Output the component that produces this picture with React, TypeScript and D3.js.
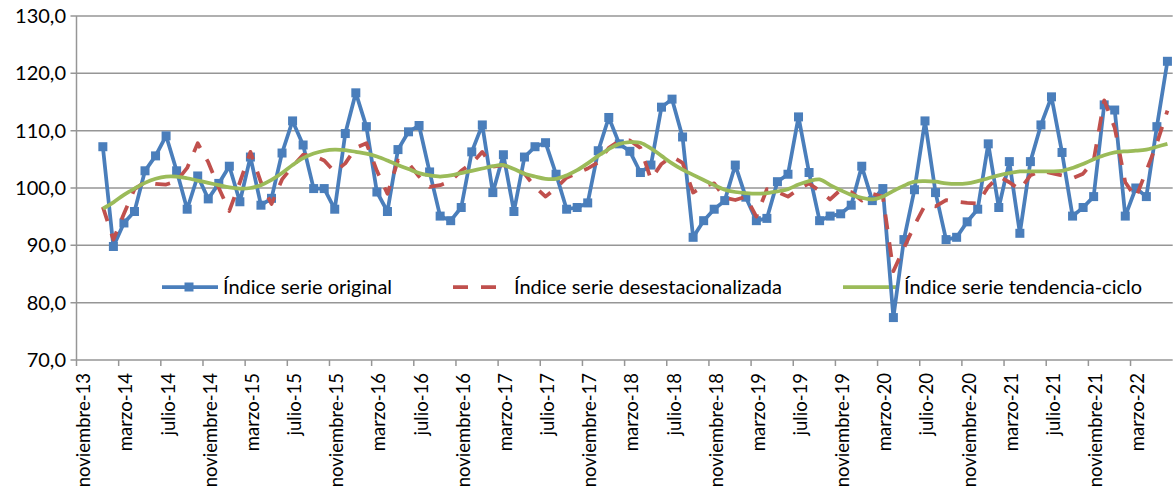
import React from 'react';
import * as d3 from 'd3';

const width = 1173;
const height = 498;
const plotLeft = 76.5;
const plotRight = 1172.7;
const plotTop = 16;
const plotBottom = 360;

const blue = '#4a7ebb';
const red = '#c0504d';
const green = '#9bbb59';
const grid = '#969696';
const font = 'Lato, "Open Sans", sans-serif';

const monthNames = ['enero', 'febrero', 'marzo', 'abril', 'mayo', 'junio', 'julio',
  'agosto', 'septiembre', 'octubre', 'noviembre', 'diciembre'];

// noviembre-13 .. junio-22
const categories: string[] = [];
for (let y = 2013; y <= 2022; y++) {
  for (let m = 0; m < 12; m++) {
    if (y === 2013 && m < 10) continue;
    if (y === 2022 && m > 5) continue;
    categories.push(`${monthNames[m]}-${String(y).slice(2)}`);
  }
}

const original = [null, null,
  107.2, 89.8, 93.9, 95.9, 103.0, 105.6, 109.1, 103.0, 96.3, 102.1,
  98.1, 100.8, 103.8, 97.6, 105.4, 97.0, 98.2, 106.1, 111.7, 107.5,
  99.9, 99.9, 96.3, 109.5, 116.6, 110.7, 99.3, 95.9, 106.7, 109.8,
  110.9, 102.8, 95.1, 94.3, 96.6, 106.3, 111.0, 99.2, 105.8, 95.9,
  105.4, 107.2, 107.9, 102.4, 96.3, 96.6, 97.4, 106.5, 112.3, 107.7,
  106.4, 102.7, 104.0, 114.1, 115.5, 108.9, 91.4, 94.3, 96.3, 97.8,
  104.0, 98.4, 94.3, 94.7, 101.1, 102.4, 112.4, 102.7, 94.3, 95.1,
  95.5, 97.0, 103.8, 97.8, 99.9, 77.4, 91.0, 99.7, 111.7, 99.2,
  91.0, 91.4, 94.1, 96.3, 107.7, 96.6, 104.6, 92.1, 104.6, 111.0,
  115.9, 106.2, 95.1, 96.6, 98.5, 114.5, 113.6, 95.1, 100.0, 98.5,
  110.7, 122.1];

const desestacionalizada = [null, null,
  96.7, 91.0, 95.5, 99.8, 101.0, 100.7, 100.6, 101.2, 103.5, 107.8,
  104.5, 100.0, 96.0, 101.0, 106.3, 101.0, 97.2, 101.5, 103.8, 105.8,
  105.6, 104.8, 102.8, 104.3, 107.0, 107.8, 103.0, 99.0, 104.8, 104.3,
  102.0, 100.2, 100.5, 101.2, 103.0, 104.3, 106.3, 103.7, 104.0, 103.3,
  102.5, 100.2, 98.5, 100.0, 101.8, 102.6, 103.4, 104.5, 107.0, 108.2,
  108.3, 107.0, 101.5, 104.2, 105.5, 104.4, 99.2, 100.3, 100.8, 98.3,
  97.9, 98.5, 95.0, 99.8, 99.3, 98.5, 99.8, 100.8, 99.5, 98.0,
  99.7, 99.3, 97.8, 99.0, 98.5, 85.5, 89.5, 93.5, 97.0, 96.8,
  97.9, 97.6, 97.4, 97.3, 100.2, 102.0, 101.0, 99.7, 102.2, 103.0,
  102.6, 102.2, 101.7, 102.5, 104.8, 115.3, 110.5, 101.0, 98.3, 103.0,
  107.8, 113.5];

const tendencia = [null, null,
  96.4, 97.5, 98.8, 99.9, 100.9, 101.6, 102.0, 102.0, 101.7, 101.3,
  100.9, 100.5, 100.1, 99.9, 100.0, 100.5, 101.4, 102.6, 104.0, 105.2,
  106.0, 106.5, 106.7, 106.6, 106.3, 106.0, 105.5, 104.8, 104.0, 103.3,
  102.6, 102.2, 102.0, 102.2, 102.6, 103.0, 103.4, 103.8, 104.0, 103.3,
  102.5, 102.0, 101.6, 101.6, 102.2, 103.1, 104.3, 105.6, 106.8, 107.7,
  108.0, 107.9, 106.9, 105.6, 104.3, 103.2, 102.3, 101.4, 100.5, 99.7,
  99.3, 99.1, 99.0, 99.1, 99.4, 99.8, 100.6, 101.2, 101.5, 100.5,
  99.6, 98.8, 98.3, 98.0, 98.5, 99.5, 100.4, 101.1, 101.2, 101.1,
  100.8, 100.7, 100.8, 101.2, 101.7, 102.2, 102.6, 102.9, 102.9, 102.9,
  102.9, 103.0, 103.5, 104.2, 105.0, 105.7, 106.2, 106.4, 106.5, 106.7,
  107.2, 107.7];

const yTicks = [70, 80, 90, 100, 110, 120, 130];

const legendItems = [
  { label: 'Índice serie original', color: blue, dash: null, marker: true, x: 162 },
  { label: 'Índice serie desestacionalizada', color: red, dash: '15 13', marker: false, x: 453 },
  { label: 'Índice serie tendencia-ciclo', color: green, dash: null, marker: false, x: 843 },
];

const x = d3.scaleBand<string>().domain(categories).range([plotLeft, plotRight]).padding(0);
const y = d3.scaleLinear().domain([70, 130]).range([plotBottom, plotTop]);
const cx = (c: string) => (x(c) as number) + x.bandwidth() / 2;

type Pt = [string, number | null];
const zip = (vals: (number | null)[]): Pt[] => categories.map((c, i) => [c, vals[i]]);

const straight = d3.line<Pt>()
  .defined(d => d[1] != null)
  .x(d => cx(d[0]))
  .y(d => y(d[1] as number));

const smooth = d3.line<Pt>()
  .defined(d => d[1] != null)
  .x(d => cx(d[0]))
  .y(d => y(d[1] as number))
  .curve(d3.curveCatmullRom.alpha(0.5));

export default function App() {
  const labelCats = categories.filter((_, i) => i % 4 === 0);
  const origPts = zip(original).filter(d => d[1] != null);
  return (
    <svg width={width} height={height} style={{ position: 'absolute', left: 0, top: 0, background: '#fff' }}>
      {/* gridlines + y axis */}
      {yTicks.map(t => (
        <line key={t} x1={plotLeft - 6} x2={plotRight} y1={y(t)} y2={y(t)} stroke={grid} strokeWidth={1.5} />
      ))}
      {yTicks.map(t => (
        <text key={'l' + t} x={66} y={y(t)} dy="0.35em" textAnchor="end" fontFamily={font} fontSize={20} fill="#000">
          {d3.format('.1f')(t).replace('.', ',')}
        </text>
      ))}
      <line x1={plotLeft} x2={plotLeft} y1={plotTop} y2={plotBottom} stroke={grid} strokeWidth={1.5} />

      {/* x axis ticks + labels, every 4 months */}
      {labelCats.map(c => (
        <line key={'t' + c} x1={x(c)} x2={x(c)} y1={plotBottom} y2={plotBottom + 6} stroke={grid} strokeWidth={1.5} />
      ))}
      {labelCats.map(c => (
        <text key={'x' + c} transform={`translate(${cx(c) + 2},${plotBottom + 13}) rotate(-90)`}
          dy="0.35em" textAnchor="end" fontFamily={font} fontSize={18.5} fill="#000">{c}</text>
      ))}

      {/* legend */}
      {legendItems.map(it => (
        <g key={it.label}>
          <line x1={it.x} x2={it.x + 56} y1={287} y2={287} stroke={it.color} strokeWidth={3.75}
            strokeDasharray={it.dash ?? undefined} />
          {it.marker && <rect x={it.x + 22.5} y={282.5} width={9} height={9} fill={it.color} />}
          <text x={it.x + 61} y={287} dy="0.35em" fontFamily={font} fontSize={20} fill="#000">{it.label}</text>
        </g>
      ))}

      {/* series */}
      <path d={straight(zip(original)) ?? ''} fill="none" stroke={blue} strokeWidth={3.75} strokeLinejoin="round" />
      {origPts.map(d => (
        <rect key={'m' + d[0]} x={cx(d[0]) - 4.5} y={y(d[1] as number) - 4.5} width={9} height={9} fill={blue} />
      ))}
      <path d={straight(zip(desestacionalizada)) ?? ''} fill="none" stroke={red} strokeWidth={3.75}
        strokeDasharray="15 13" strokeLinejoin="round" />
      <path d={smooth(zip(tendencia)) ?? ''} fill="none" stroke={green} strokeWidth={3.75} />
    </svg>
  );
}
